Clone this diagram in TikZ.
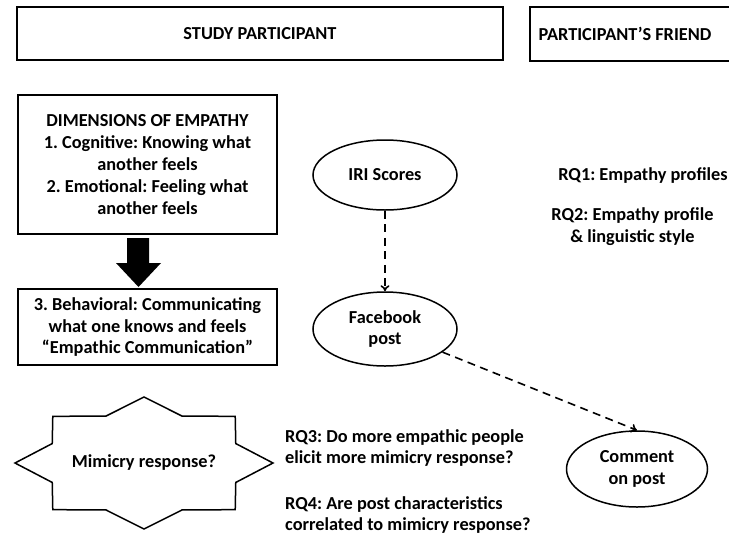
\documentclass[tikz,border=0pt]{standalone}
\usepackage{fontspec}
\setmainfont{Carlito}
\frenchspacing
\usetikzlibrary{shapes.geometric,arrows.meta}

\tikzset{
	every node/.style={inner sep=0pt,font=\fontsize{18.3}{21.8}\selectfont\bfseries},
	box/.style={draw,line width=1.5pt,align=center},
	oval/.style={draw,ellipse,line width=1.5pt,align=center},
	dasharrow/.style={-{To[length=6pt,width=9pt]},dash pattern=on 8pt off 5.5pt,line width=1.6pt}
}

\begin{document}
\begin{tikzpicture}[x=1pt,y=-1pt]

	\useasboundingbox (0,0) rectangle (729,539);

	% top headers
	\node[box,minimum width=486,minimum height=53] (study) at (260,33.5) {STUDY PARTICIPANT};

	\node (friend) at (625,34) {PARTICIPANT’S FRIEND};
	\draw[line width=1.5pt] (729,7) -- (530,7) -- (530,61) -- (729,61);

	% empathy boxes
	\node[box,minimum width=259,minimum height=139] (dims) at (147.5,164.5) {DIMENSIONS OF EMPATHY\\1. Cognitive: Knowing what\\another feels\\2. Emotional: Feeling what\\another feels};

	\node[box,minimum width=259,minimum height=76] (behav) at (147.5,327) {3. Behavioral: Communicating\\what one knows and feels\\“Empathic Communication”};

	\fill (127,238) -- (149,238) -- (149,263) -- (161,263) -- (138.5,287) -- (116,263) -- (127,263) -- cycle;

	% facebook chain
	\node[oval,minimum width=144,minimum height=70] (iri) at (385,175) {IRI Scores};

	\node[oval,minimum width=144,minimum height=74] (fb) at (385,329) {Facebook\\post};

	\node[oval,minimum width=141,minimum height=76] (comment) at (637,469) {Comment\\on post};

	\draw[dasharrow] (iri) -- (fb);
	\draw[dasharrow] (fb) -- (comment.north);

	% mimicry star
	\node (mimic) at (144,463) {Mimicry response?};
	\draw[line width=1.5pt,shift={(mimic.center)},x=129pt,y=66pt] (0:1) \foreach \i in {1,...,15}{ -- ({\i*22.5}:{1-0.23*mod(\i,2)}) } -- cycle;

	% research questions
	\node (rq1) at (643,175) {RQ1: Empathy profiles};

	\node[align=center] (rq2) at (632.5,227) {RQ2: Empathy profile\\\& linguistic style};

	\node[anchor=west,align=left] (rq3) at (285,448) {RQ3: Do more empathic people\\elicit more mimicry response?};

	\node[anchor=west,align=left] (rq4) at (285,515) {RQ4: Are post characteristics\\correlated to mimicry response?};
\end{tikzpicture}
\end{document}
